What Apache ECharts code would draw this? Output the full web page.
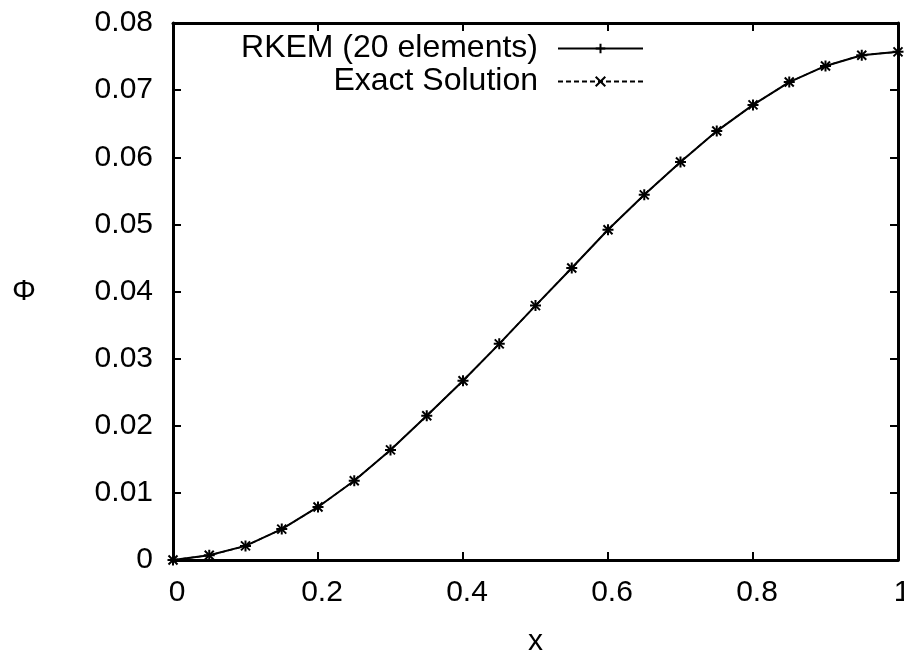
<!DOCTYPE html>
<html>
<head>
<meta charset="utf-8">
<title>RKEM vs Exact</title>
<script src="https://cdn.jsdelivr.net/npm/echarts@6/dist/echarts.min.js"></script>
<style>
  html, body { margin: 0; padding: 0; background: #fff; }
  #chart { width: 904px; height: 656px; }
</style>
</head>
<body>
<div id="chart"></div>
<script>
// nodal positions
var xValues = [0, 0.05, 0.1, 0.15, 0.2, 0.25, 0.3, 0.35, 0.4, 0.45, 0.5,
               0.55, 0.6, 0.65, 0.7, 0.75, 0.8, 0.85, 0.9, 0.95, 1];
// RKEM (20 elements)
var rkemY = [0, 0.0007, 0.0021, 0.0046, 0.0079, 0.0118, 0.0164, 0.0215, 0.0267, 0.0322, 0.0379,
             0.0435, 0.0492, 0.0544, 0.0593, 0.0639, 0.0678, 0.0712, 0.0736, 0.0752, 0.0757];
// exact solution
var exactY = [0, 0.0007, 0.0021, 0.0046, 0.0079, 0.0118, 0.0164, 0.0215, 0.0267, 0.0322, 0.0379,
              0.0435, 0.0492, 0.0544, 0.0593, 0.0639, 0.0678, 0.0712, 0.0736, 0.0752, 0.0757];
var seriesNames = ['RKEM (20 elements)', 'Exact Solution'];

var plusPath = 'path://M0,5L10,5M5,0L5,10';
var crossPath = 'path://M0,0L10,10M10,0L0,10';
var fontFam = '"Liberation Sans", Arial, sans-serif';

function pairs(xs, ys) {
    var out = [];
    for (var i = 0; i < xs.length; i++) out.push([xs[i], ys[i]]);
    return out;
}
function fmt(v) { return String(+v.toFixed(2)); }

var axisLine = { show: true, onZero: false, lineStyle: { color: '#000', width: 3 } };
var tick = { show: true, inside: true, length: 8, lineStyle: { color: '#000', width: 2 } };

var chart = echarts.init(document.getElementById('chart'));
chart.setOption({
    animation: false,
    textStyle: { fontFamily: fontFam },
    grid: { left: 173, right: 6, top: 23, bottom: 96, outerBoundsMode: 'none', containLabel: false },
    legend: {
        orient: 'vertical',
        align: 'right',
        right: 255,
        top: 27,
        itemGap: 0,
        itemWidth: 85,
        itemHeight: 12,
        textStyle: { fontSize: 32, lineHeight: 33, color: '#000', fontFamily: fontFam, padding: [0, 15, 0, 0] },
        data: seriesNames
    },
    xAxis: [{
        type: 'value', min: 0, max: 1, interval: 0.2,
        name: 'x', nameLocation: 'middle', nameGap: 67,
        nameTextStyle: { fontSize: 30, color: '#000' },
        axisLine: axisLine, axisTick: tick, splitLine: { show: false },
        axisLabel: { fontSize: 30, color: '#000', margin: 18, formatter: fmt, padding: [0, 0, 0, 8] }
    }, {
        type: 'value', min: 0, max: 1, interval: 0.2, position: 'top',
        axisLine: axisLine, axisTick: tick, splitLine: { show: false },
        axisLabel: { show: false }
    }],
    yAxis: [{
        type: 'value', min: 0, max: 0.08, interval: 0.01,
        name: 'Φ', nameLocation: 'middle', nameGap: 137, nameRotate: 0,
        nameTextStyle: { fontSize: 30, color: '#000' },
        axisLine: axisLine, axisTick: tick, splitLine: { show: false },
        axisLabel: { fontSize: 30, color: '#000', margin: 20, formatter: fmt }
    }, {
        type: 'value', min: 0, max: 0.08, interval: 0.01, position: 'right',
        axisLine: axisLine, axisTick: tick, splitLine: { show: false },
        axisLabel: { show: false }
    }],
    series: [{
        name: seriesNames[0],
        type: 'line',
        data: pairs(xValues, rkemY),
        symbol: plusPath,
        symbolSize: 11,
        showSymbol: true,
        lineStyle: { color: '#000', width: 2 },
        itemStyle: { color: '#000', borderColor: '#000', borderWidth: 2 },
        z: 3
    }, {
        name: seriesNames[1],
        type: 'line',
        data: pairs(xValues, exactY),
        symbol: crossPath,
        symbolSize: 9,
        showSymbol: true,
        lineStyle: { color: '#000', width: 1.5, type: [5, 3] },
        itemStyle: { color: '#000', borderColor: '#000', borderWidth: 2 },
        z: 2
    }]
});
</script>
</body>
</html>
